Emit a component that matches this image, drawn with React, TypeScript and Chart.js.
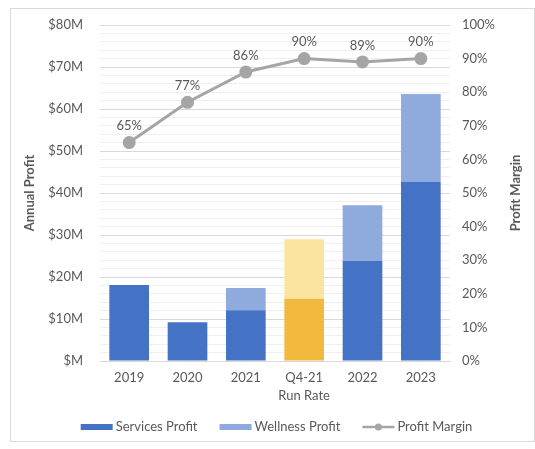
import React, { useEffect, useRef } from "react";
import { Chart, registerables } from "chart.js";
Chart.register(...registerables);

const categories: (string | string[])[] = ["2019", "2020", "2021", ["Q4-21", "Run Rate"], "2022", "2023"];
const servicesProfit = [18.1, 9.2, 12.1, 14.8, 23.8, 42.6];
const wellnessProfit = [null, null, 5.3, 14.2, 13.3, 21.0];
const profitMargin = [65, 77, 86, 90, 89, 90];
const servicesColors = ["#4472C4", "#4472C4", "#4472C4", "#F2BA3C", "#4472C4", "#4472C4"];
const wellnessColors = ["#8FAADC", "#8FAADC", "#8FAADC", "#FBE3A0", "#8FAADC", "#8FAADC"];
const leftTicks = [0, 10, 20, 30, 40, 50, 60, 70, 80];
const legendLabels = ["Services Profit", "Wellness Profit", "Profit Margin"];

const FONT = "Lato, 'Open Sans', sans-serif";
const TXT = "#595959";

export default function App() {
  const ref = useRef<HTMLCanvasElement>(null);
  useEffect(() => {
    if (!ref.current) return;
    const overlay = {
      id: "overlay",
      afterDatasetsDraw(chart: any) {
        const ctx = chart.ctx;
        const meta = chart.getDatasetMeta(2);
        ctx.save();
        ctx.font = `13px ${FONT}`;
        ctx.fillStyle = TXT;
        ctx.textAlign = "center";
        ctx.textBaseline = "bottom";
        meta.data.forEach((pt: any, i: number) => {
          ctx.fillText(profitMargin[i] + "%", pt.x, pt.y - 10);
        });
        ctx.restore();
      },
      afterDraw(chart: any) {
        const ctx = chart.ctx;
        const ca = chart.chartArea;
        const midY = (ca.top + ca.bottom) / 2;
        ctx.save();
        ctx.font = `bold 13px ${FONT}`;
        ctx.fillStyle = TXT;
        ctx.textAlign = "center";
        ctx.textBaseline = "middle";
        ctx.save();
        ctx.translate(19, midY);
        ctx.rotate(-Math.PI / 2);
        ctx.fillText("Annual Profit", 0, 0);
        ctx.restore();
        ctx.save();
        ctx.translate(chart.width - 18, midY);
        ctx.rotate(-Math.PI / 2);
        ctx.fillText("Profit Margin", 0, 0);
        ctx.restore();
        ctx.restore();
        ctx.save();
        ctx.font = `13px ${FONT}`;
        const boxW = 32;
        const gap = 3;
        const itemGap = 22;
        const widths = legendLabels.map((l) => boxW + gap + ctx.measureText(l).width);
        const total = widths.reduce((a, b) => a + b, 0) + itemGap * (widths.length - 1);
        let x = chart.width / 2 - total / 2 + 4;
        const y = chart.height - 14;
        legendLabels.forEach((l, i) => {
          if (i === 0 || i === 1) {
            ctx.fillStyle = i === 0 ? "#4472C4" : "#8FAADC";
            ctx.fillRect(x, y - 3, boxW, 6);
          } else {
            ctx.strokeStyle = "#A5A5A5";
            ctx.lineWidth = 2.5;
            ctx.beginPath();
            ctx.moveTo(x, y);
            ctx.lineTo(x + boxW, y);
            ctx.stroke();
            ctx.fillStyle = "#A5A5A5";
            ctx.beginPath();
            ctx.arc(x + boxW / 2, y, 3.5, 0, Math.PI * 2);
            ctx.fill();
          }
          ctx.fillStyle = TXT;
          ctx.textAlign = "left";
          ctx.textBaseline = "middle";
          ctx.fillText(l, x + boxW + gap, y);
          x += widths[i] + itemGap;
        });
        ctx.restore();
      },
    };
    const chart = new Chart(ref.current, {
      type: "bar",
      data: {
        labels: categories as any,
        datasets: [
          {
            type: "bar",
            label: "Services Profit",
            data: servicesProfit,
            backgroundColor: servicesColors,
            stack: "s",
            yAxisID: "y",
            barPercentage: 0.68,
            categoryPercentage: 1,
            order: 2,
          },
          {
            type: "bar",
            label: "Wellness Profit",
            data: wellnessProfit as any,
            backgroundColor: wellnessColors,
            stack: "s",
            yAxisID: "y",
            barPercentage: 0.68,
            categoryPercentage: 1,
            order: 2,
          },
          {
            type: "line",
            label: "Profit Margin",
            data: profitMargin,
            borderColor: "#A5A5A5",
            backgroundColor: "#A5A5A5",
            borderWidth: 3,
            pointRadius: 5,
            pointBackgroundColor: "#A5A5A5",
            pointBorderColor: "#A5A5A5",
            yAxisID: "y1",
            order: 0,
          },
        ],
      },
      options: {
        responsive: false,
        animation: false,
        layout: { padding: { top: 16, bottom: 0, left: 0, right: 0 } },
        plugins: {
          legend: { display: false },
          tooltip: { enabled: false },
          title: { display: false },
        },
        scales: {
          x: {
            stacked: true,
            grid: { display: false, drawTicks: false },
            border: { display: true, color: "#D9D9D9" },
            ticks: {
              color: TXT,
              font: { family: FONT, size: 13, lineHeight: 1.4 },
              padding: 8,
              maxRotation: 0,
            },
            afterFit: (s: any) => {
              s.height = 80;
              s.paddingTop = 0;
              s.paddingBottom = 0;
            },
          },
          y: {
            stacked: true,
            position: "left",
            min: 0,
            max: 80,
            border: { display: false },
            grid: {
              color: (c: any) => (c.tick && leftTicks.includes(c.tick.value) ? "#D9D9D9" : "#EFEFEF"),
              drawTicks: false,
            },
            ticks: {
              stepSize: 2,
              autoSkip: false,
              color: TXT,
              padding: 17,
              font: { family: FONT, size: 13 },
              callback: (v: any) => (leftTicks.includes(v) ? (v === 0 ? "$M" : `$${v}M`) : ""),
            },
            afterFit: (s: any) => {
              s.width = 89;
              s.paddingTop = 0;
              s.paddingBottom = 0;
            },
          },
          y1: {
            position: "right",
            min: 0,
            max: 100,
            border: { display: false },
            grid: { display: false, drawTicks: false },
            ticks: {
              stepSize: 10,
              color: TXT,
              padding: 12,
              font: { family: FONT, size: 13 },
              callback: (v: any) => `${v}%`,
            },
            afterFit: (s: any) => {
              s.width = 84;
              s.paddingTop = 0;
              s.paddingBottom = 0;
            },
          },
        },
      },
      plugins: [overlay],
    });
    return () => chart.destroy();
  }, []);
  return (
    <div
      style={{
        position: "absolute",
        left: 10,
        top: 8,
        width: 523,
        height: 432,
        border: "1px solid #D9D9D9",
        background: "#fff",
      }}
    >
      <canvas ref={ref} width={523} height={432} />
    </div>
  );
}
